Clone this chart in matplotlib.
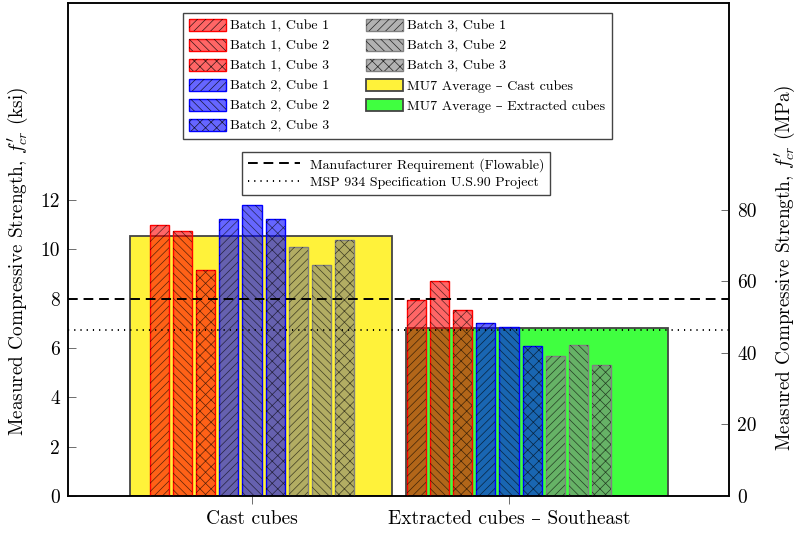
import numpy as np
import matplotlib
matplotlib.use("Agg")
import matplotlib.pyplot as plt
from matplotlib.patches import Patch
from matplotlib.lines import Line2D
from matplotlib.legend_handler import HandlerTuple

plt.rcParams['font.family'] = ['cmr10', 'DejaVu Serif']
plt.rcParams['mathtext.fontset'] = 'cm'
plt.rcParams['axes.formatter.use_mathtext'] = True
plt.rcParams['axes.unicode_minus'] = False
plt.rcParams['hatch.linewidth'] = 0.5

# ---- data (ksi) ----
categories = ['Cast cubes', 'Extracted cubes \u2013 Southeast']
cube_labels = ['Batch 1, Cube 1', 'Batch 1, Cube 2', 'Batch 1, Cube 3',
               'Batch 2, Cube 1', 'Batch 2, Cube 2', 'Batch 2, Cube 3',
               'Batch 3, Cube 1', 'Batch 3, Cube 2', 'Batch 3, Cube 3']
cast_values = [10.98, 10.76, 9.15, 11.25, 11.79, 11.22, 10.11, 9.38, 10.39]
extracted_values = [7.95, 8.73, 7.55, 7.02, 6.84, 6.07, 5.68, 6.11, 5.30]
average_labels = ['MU7 Average \u2013 Cast cubes', 'MU7 Average \u2013 Extracted cubes']
average_values = [10.55, 6.80]
manufacturer_req = 8.0
msp_spec = 6.75
left_ticks = [0, 2, 4, 6, 8, 10, 12]
right_ticks = [0, 20, 40, 60, 80]
KSI_TO_MPA = 6.894757

# ---- styles ----
batch_colors = ['red', 'red', 'red', 'blue', 'blue', 'blue', 'gray', 'gray', 'gray']
cube_hatches = ['////', '\\\\\\\\', 'xxx'] * 3
average_colors = ['#fff23a', '#40ff40']
average_offsets = [0.036, 0.109]
bar_step = 0.0898
bar_width = 0.074
avg_width = 1.018
LEG_FS = 10

fig = plt.figure(figsize=(7.96, 5.34), dpi=100)
ax = fig.add_axes([68.3 / 796, 1 - 496 / 534, (729 - 68.3) / 796, (496 - 3) / 534])

x_cat = np.arange(len(categories))

# average bars in the background
for i in range(len(categories)):
    ax.bar(x_cat[i] + average_offsets[i], average_values[i], width=avg_width,
           color=average_colors[i], edgecolor='#444444', linewidth=1.3, zorder=1)

# individual cube bars
for k, lab in enumerate(cube_labels):
    xs = x_cat + (k - 4) * bar_step
    vals = [cast_values[k], extracted_values[k]]
    ax.bar(xs, vals, width=bar_width, color=batch_colors[k], alpha=0.6,
           linewidth=0, zorder=2)
    ax.bar(xs, vals, width=bar_width, fill=False, edgecolor=batch_colors[k],
           linewidth=1.0, zorder=3)
    ax.bar(xs, vals, width=bar_width, fill=False, hatch=cube_hatches[k],
           edgecolor=(0, 0, 0, 0.65), linewidth=0, zorder=3)

# reference lines
ax.axhline(manufacturer_req, color='black', lw=1.4, ls=(0, (5, 3)), zorder=4)
ax.axhline(msp_spec, color='black', lw=1.4, ls=(0, (0.6, 2.6)), zorder=4)

ax.set_xlim(-0.7148, 1.856)
ax.set_ylim(0, 20)
ax.set_xticks(x_cat)
ax.set_xticklabels(categories, fontsize=14)
ax.set_yticks(left_ticks)
ax.set_yticklabels([str(t) for t in left_ticks], fontsize=14)
ax.tick_params(axis='y', direction='in', length=6, width=0.6, color='#555555', pad=5.8)
ax.tick_params(axis='x', direction='out', length=6, width=0.6, color='#555555', pad=4)
for s in ax.spines.values():
    s.set_linewidth(1.1)
ax.set_ylabel(r"Measured Compressive Strength, $f^{\prime}_{cr}$ (ksi)", fontsize=13.8)
ax.yaxis.set_label_coords(-0.058, 0.475)

ax2 = ax.twinx()
ax2.set_ylim(0, 20 * KSI_TO_MPA)
ax2.set_yticks(right_ticks)
ax2.set_yticklabels([str(t) for t in right_ticks], fontsize=14)
ax2.tick_params(axis='y', direction='in', length=6, width=0.6, color='#555555', pad=5.8)
for s in ax2.spines.values():
    s.set_linewidth(1.1)
ax2.set_ylabel(r"Measured Compressive Strength, $f^{\prime}_{cr}$ (MPa)", fontsize=13.8)
ax2.yaxis.set_label_coords(1.066, 0.462)

# legend of bars
handles = []
for k in range(len(cube_labels)):
    handles.append((Patch(facecolor=batch_colors[k], alpha=0.6, linewidth=0),
                    Patch(fill=False, edgecolor=batch_colors[k], linewidth=1.0),
                    Patch(fill=False, hatch=cube_hatches[k], edgecolor=(0, 0, 0, 0.8),
                          linewidth=0)))
for i in range(len(average_labels)):
    handles.append(Patch(facecolor=average_colors[i], edgecolor='#444444', linewidth=1.3))
labels = cube_labels + average_labels
leg1 = fig.legend(handles, labels, ncol=2, loc='upper left',
                  bbox_to_anchor=(183 / 796, 1 - 13 / 534), borderaxespad=0,
                  fontsize=LEG_FS, handlelength=2.66, handleheight=0.88,
                  labelspacing=0.47, handletextpad=0.29, columnspacing=2.65,
                  fancybox=False, framealpha=1, edgecolor='#444444',
                  borderpad=0.45,
                  handler_map={tuple: HandlerTuple(ndivide=1, pad=0)})
leg1.get_frame().set_linewidth(1.0)

line_handles = [Line2D([], [], color='black', lw=1.4, ls=(0, (5, 3))),
                Line2D([], [], color='black', lw=1.4, ls=(0, (0.6, 2.6)))]
leg2 = fig.legend(line_handles, ['Manufacturer Requirement (Flowable)',
                                 'MSP 934 Specification U.S.90 Project'],
                  loc='upper left', bbox_to_anchor=(242 / 796, 1 - 152 / 534),
                  borderaxespad=0, fontsize=LEG_FS, handlelength=3.75,
                  labelspacing=0.36, handletextpad=0.72, fancybox=False,
                  framealpha=1, edgecolor='#444444', borderpad=0.42)
leg2.get_frame().set_linewidth(1.0)

fig.savefig('out.png', dpi=100)
